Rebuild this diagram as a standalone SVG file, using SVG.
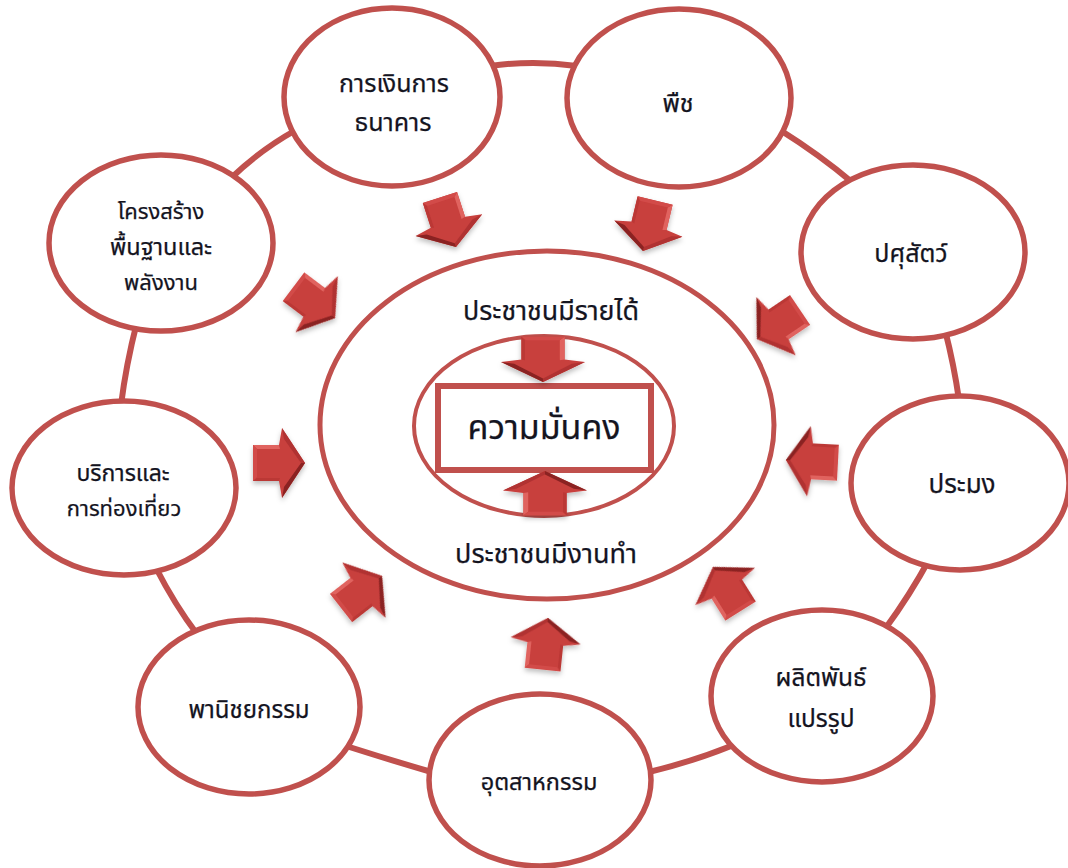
<svg xmlns="http://www.w3.org/2000/svg" width="1068" height="868" viewBox="0 0 1068 868">
<style>
text{font-family:"Tahoma","Noto Sans Thai","Noto Sans","DejaVu Sans",sans-serif;fill:#14141f;stroke:#14141f;stroke-width:.25px;text-anchor:middle;font-size:22px}
.n{fill:#fff;stroke:#c0504d;stroke-width:5.5}
.c{fill:none;stroke:#c0504d;stroke-width:6}
</style>
<defs>
<filter id="s" x="-5%" y="-5%" width="110%" height="110%"><feGaussianBlur in="SourceGraphic" stdDeviation=".6" result="b"/><feDropShadow in="b" dx="0" dy="3" stdDeviation="2.5" flood-color="#000" flood-opacity=".25"/></filter>
<g id="a">
<polygon points="-18,-52 18,-52 18,-26 35,-23 0,0 -35,-23 -18,-26" fill="#c83f3d"/>
<polygon points="18,-52 18,-26 14,-25 14,-48" fill="#e0645f"/>
<polygon points="-18,-52 18,-52 14,-48 -14,-48" fill="#d24c48"/>
<polygon points="-18,-52 -18,-26 -15,-25 -15,-48" fill="#bb3735"/>
<polygon points="35,-23 0,0 0,-4 24,-21" fill="#b03230"/>
<polygon points="-35,-23 0,0 0,-4 -24,-21" fill="#8a2321"/>
</g>
</defs>
<g id="connectors">
<path class="c" d="M490 66Q533 60 577 66"/>
<path class="c" d="M780 130Q820 155 853 183"/>
<path class="c" d="M945 330Q954 365 959 400"/>
<path class="c" d="M930 558Q910 595 885 629"/>
<path class="c" d="M745 740Q700 760 645 773"/>
<path class="c" d="M435 773Q390 760 343 745"/>
<path class="c" d="M197 634Q175 605 156 568"/>
<path class="c" d="M121 405Q126 365 137 322"/>
<path class="c" d="M230 179Q260 150 296 130"/>
</g>
<g id="node-finance"><ellipse class="n" cx="392" cy="97" rx="108" ry="89"/><text x="394" y="92" style="font-size:25px">การเงินการ</text><text x="393" y="131" style="font-size:25px">ธนาคาร</text></g>
<g id="node-plants"><ellipse class="n" cx="679" cy="98" rx="112" ry="89"/><text x="678" y="112" style="font-size:25px">พืช</text></g>
<g id="node-livestock"><ellipse class="n" cx="913" cy="252" rx="112" ry="87"/><text x="911" y="262" style="font-size:25px">ปศุสัตว์</text></g>
<g id="node-fishery"><ellipse class="n" cx="960" cy="483" rx="109" ry="87"/><text x="962" y="493" style="font-size:26px">ประมง</text></g>
<g id="node-processed"><ellipse class="n" cx="822" cy="696" rx="111" ry="86"/><text x="821" y="686" style="font-size:24.5px">ผลิตพันธ์</text><text x="821" y="727" style="font-size:24.5px">แปรรูป</text></g>
<g id="node-industry"><ellipse class="n" cx="540" cy="780" rx="111" ry="86"/><text x="539" y="790" style="font-size:23.5px">อุตสาหกรรม</text></g>
<g id="node-commerce"><ellipse class="n" cx="249" cy="707" rx="111" ry="87"/><text x="249" y="718" style="font-size:24px">พานิชยกรรม</text></g>
<g id="node-tourism"><ellipse class="n" cx="124" cy="488" rx="112" ry="87"/><text x="123" y="481" style="font-size:23px">บริการและ</text><text x="124" y="516">การท่องเที่ยว</text></g>
<g id="node-infrastructure"><ellipse class="n" cx="161" cy="243" rx="112" ry="88"/><text x="161" y="219">โครงสร้าง</text><text x="161" y="255" style="font-size:23.5px">พื้นฐานและ</text><text x="161" y="290">พลังงาน</text></g>
<g id="node-outer"><ellipse class="n" style="fill:none;stroke-width:5" cx="547" cy="425" rx="227" ry="174"/><text x="551" y="320" style="font-size:26.8px">ประชาชนมีรายได้</text><text x="546" y="563" style="font-size:27px">ประชาชนมีงานทำ</text></g>
<g id="node-inner"><ellipse class="n" style="stroke-width:4" cx="544" cy="426" rx="130" ry="90"/></g>
<g id="node-security"><rect x="438" y="386" width="213" height="84" fill="#fff" stroke="#c0504d" stroke-width="6"/><text x="544" y="439" style="font-size:34px">ความมั่นคง</text></g>
<g id="arrows" filter="url(#s)">
<use href="#a" transform="translate(456 247) rotate(-18)"/>
<use href="#a" transform="translate(335 318) rotate(-53)"/>
<use href="#a" transform="translate(643 251) rotate(13.5)"/>
<use href="#a" transform="translate(757 339) rotate(56)"/>
<use href="#a" transform="translate(786 460) rotate(93)"/>
<use href="#a" transform="translate(713 567) rotate(148)"/>
<use href="#a" transform="translate(548 618) rotate(186)"/>
<use href="#a" transform="translate(382 576) rotate(-128)"/>
<use href="#a" transform="translate(305 463) rotate(-90)"/>
<use href="#a" transform="translate(543 382) scale(1.2 .87)"/>
<use href="#a" transform="translate(545 471) rotate(180) scale(1.2 .85)"/>
</g>
</svg>
